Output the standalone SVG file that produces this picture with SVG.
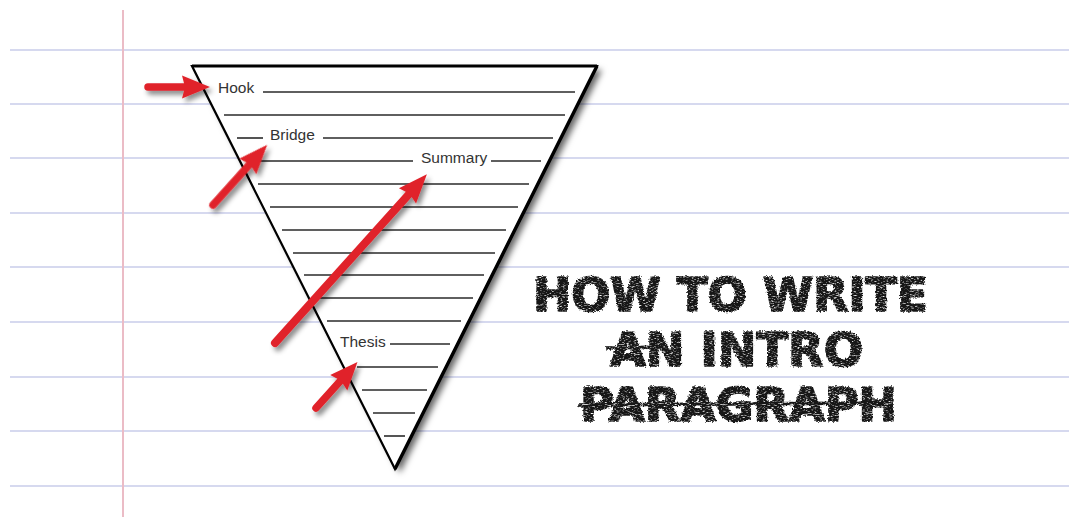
<svg xmlns="http://www.w3.org/2000/svg" width="1069" height="517" viewBox="0 0 1069 517">
<defs>
<style>
.rule{stroke:#d6d9ef;stroke-width:2}
.ln{stroke:#2a2a2a;stroke-width:1.6}
.lbl{font-family:"Liberation Sans","Noto Sans",sans-serif;font-size:15.5px;fill:#333}
.arrow{fill:#e0242b;stroke:none}
.shaft{stroke:#e0242b;stroke-linecap:round;fill:none}
.title{font-family:"DejaVu Sans",sans-serif;font-weight:bold;font-stretch:condensed;font-size:46.5px;fill:#151515;stroke:#151515;stroke-width:1.6;stroke-linejoin:round}
</style>
<filter id="shadow" x="-20%" y="-20%" width="150%" height="150%">
<feDropShadow dx="5" dy="4" stdDeviation="3" flood-color="#000" flood-opacity="0.6"/>
</filter>
<filter id="ashadow" x="-30%" y="-30%" width="170%" height="170%">
<feDropShadow dx="3" dy="4" stdDeviation="2.5" flood-color="#000" flood-opacity="0.45"/>
</filter>
<filter id="chalk" x="-5%" y="-10%" width="110%" height="120%">
<feTurbulence type="fractalNoise" baseFrequency="0.6" numOctaves="2" seed="3" result="n"/>
<feDisplacementMap in="SourceGraphic" in2="n" scale="3.5" xChannelSelector="R" yChannelSelector="G" result="d"/>
<feTurbulence type="fractalNoise" baseFrequency="0.35 1.1" numOctaves="2" seed="7" result="n2"/>
<feColorMatrix in="n2" type="matrix" values="0 0 0 0 0  0 0 0 0 0  0 0 0 0 0  3 0 0 0 -0.45" result="m"/>
<feComposite in="d" in2="m" operator="in"/>
</filter>
</defs>
<rect width="1069" height="517" fill="#fff"/>
<g id="paper">
<line class="rule" x1="10" y1="50" x2="1069" y2="50"/>
<line class="rule" x1="10" y1="104" x2="1069" y2="104"/>
<line class="rule" x1="10" y1="158" x2="1069" y2="158"/>
<line class="rule" x1="10" y1="213" x2="1069" y2="213"/>
<line class="rule" x1="10" y1="267" x2="1069" y2="267"/>
<line class="rule" x1="10" y1="322" x2="1069" y2="322"/>
<line class="rule" x1="10" y1="377" x2="1069" y2="377"/>
<line class="rule" x1="10" y1="431" x2="1069" y2="431"/>
<line class="rule" x1="10" y1="486" x2="1069" y2="486"/>
<line x1="123" y1="10" x2="123" y2="517" stroke="#ebbcc6" stroke-width="2"/>
</g>
<g id="funnel">
<polygon points="192,66 597,66 395,469" fill="#fff" filter="url(#shadow)"/>
<polygon points="192,66 597,66 395,469" fill="#fff" stroke="#000" stroke-width="2.2" stroke-linejoin="miter"/>
<line x1="597" y1="66" x2="395" y2="469" stroke="#000" stroke-width="3.4"/>
<line x1="192" y1="66" x2="597" y2="66" stroke="#000" stroke-width="2.8"/>
</g>
<g id="lines">
<line class="ln" x1="263" y1="92" x2="575" y2="92"/>
<line class="ln" x1="224" y1="115" x2="565" y2="115"/>
<line class="ln" x1="237" y1="138" x2="263" y2="138"/>
<line class="ln" x1="323" y1="138" x2="553" y2="138"/>
<line class="ln" x1="258" y1="161" x2="413" y2="161"/>
<line class="ln" x1="491" y1="161" x2="541" y2="161"/>
<line class="ln" x1="258" y1="184" x2="529" y2="184"/>
<line class="ln" x1="270" y1="207" x2="518" y2="207"/>
<line class="ln" x1="282" y1="230" x2="506" y2="230"/>
<line class="ln" x1="293" y1="253" x2="495" y2="253"/>
<line class="ln" x1="304" y1="275" x2="484" y2="275"/>
<line class="ln" x1="317" y1="298" x2="473" y2="298"/>
<line class="ln" x1="327" y1="321" x2="461" y2="321"/>
<line class="ln" x1="390" y1="344" x2="450" y2="344"/>
<line class="ln" x1="357" y1="367" x2="438" y2="367"/>
<line class="ln" x1="362" y1="390" x2="427" y2="390"/>
<line class="ln" x1="373" y1="413" x2="415" y2="413"/>
<line class="ln" x1="384" y1="436" x2="405" y2="436"/>
</g>
<g id="labels">
<text id="hook" class="lbl" x="218" y="93">Hook</text>
<text id="bridge" class="lbl" x="270" y="140">Bridge</text>
<text id="summary" class="lbl" x="421" y="163">Summary</text>
<text id="thesis" class="lbl" x="340" y="347">Thesis</text>
</g>
<g id="connectors" filter="url(#ashadow)">
<g id="arrow-hook" transform="translate(148,87)">
<line class="shaft" x1="0" y1="0" x2="40" y2="0" stroke-width="7.5"/>
<path class="arrow" d="M 34,-11.5 L 62,0 L 34,11.5 L 37,0 Z"/>
</g>
<g id="arrow-bridge" transform="translate(213,205) rotate(-48)">
<line class="shaft" x1="0" y1="0" x2="58" y2="0" stroke-width="7.5"/>
<path class="arrow" d="M 52,-11.5 L 81,0 L 52,11.5 L 55,0 Z"/>
</g>
<g id="arrow-summary" transform="translate(275,343) rotate(-48)">
<line class="shaft" x1="0" y1="0" x2="205" y2="0" stroke-width="8"/>
<path class="arrow" d="M 198,-11.5 L 227,0 L 198,11.5 L 201,0 Z"/>
</g>
<g id="arrow-thesis" transform="translate(316,408) rotate(-48)">
<line class="shaft" x1="0" y1="0" x2="40" y2="0" stroke-width="7.5"/>
<path class="arrow" d="M 34,-11.5 L 62,0 L 34,11.5 L 37,0 Z"/>
</g>
</g>
<g id="title" filter="url(#chalk)">
<text class="title" x="533" y="311" textLength="395" lengthAdjust="spacingAndGlyphs">HOW TO WRITE</text>
<text class="title" x="610" y="365.5" textLength="253" lengthAdjust="spacingAndGlyphs">AN INTRO</text>
<text class="title" x="580" y="420.5" textLength="317" lengthAdjust="spacingAndGlyphs">PARAGRAPH</text>
<line x1="606" y1="348" x2="665" y2="347" stroke="#151515" stroke-width="3.5"/>
<line x1="578" y1="405" x2="884" y2="403" stroke="#151515" stroke-width="3.5"/>
</g>
</svg>
